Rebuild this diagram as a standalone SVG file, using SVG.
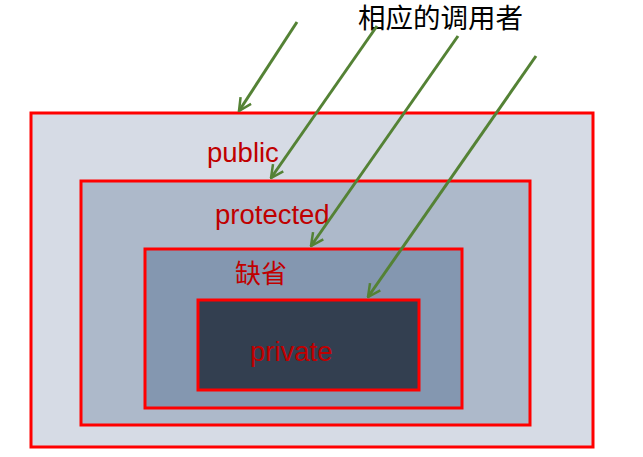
<svg xmlns="http://www.w3.org/2000/svg" width="643" height="457" viewBox="0 0 643 457">
<defs>
<style>
.box{stroke:#FF0000;stroke-width:3}
.lbl{font-family:"Liberation Sans","Noto Sans CJK SC",sans-serif;font-size:27.5px;fill:#C00000}
.cn{font-family:"Noto Sans CJK SC",sans-serif;font-size:26px;fill:#C00000}
.arr{stroke:#548235;stroke-width:3;fill:none;marker-end:url(#ah)}
</style>
<marker id="ah" viewBox="0 0 12 12" refX="11" refY="6" markerWidth="5" markerHeight="5" markerUnits="strokeWidth" orient="auto">
<polyline points="1,1 11,6 1,11" fill="none" stroke="#548235" stroke-width="2"/>
</marker>
</defs>
<rect width="643" height="457" fill="#FFFFFF"/>
<g id="public"><rect class="box" x="31" y="113" width="562" height="334" fill="#D6DBE5"/><text class="lbl" x="207" y="162">public</text></g>
<g id="protected"><rect class="box" x="81" y="181" width="449" height="244" fill="#ADB9CA"/><text class="lbl" x="215" y="224">protected</text></g>
<g id="default"><rect class="box" x="145" y="249" width="317" height="159" fill="#8497B0"/><text class="cn" x="235" y="283">缺省</text></g>
<g id="private"><rect class="box" x="198" y="300" width="221" height="90" fill="#333F50"/><text class="lbl" x="250" y="361">private</text></g>
<g id="caller"><text x="358" y="28" font-family="Noto Sans CJK SC,sans-serif" font-size="27.5" fill="#000000">相应的调用者</text></g>
<g id="connectors">
<line class="arr" x1="297" y1="22" x2="239" y2="111"/>
<line class="arr" x1="377" y1="26" x2="271" y2="178"/>
<line class="arr" x1="458" y1="36" x2="311" y2="246"/>
<line class="arr" x1="536" y1="56" x2="368" y2="297"/>
</g>
</svg>
